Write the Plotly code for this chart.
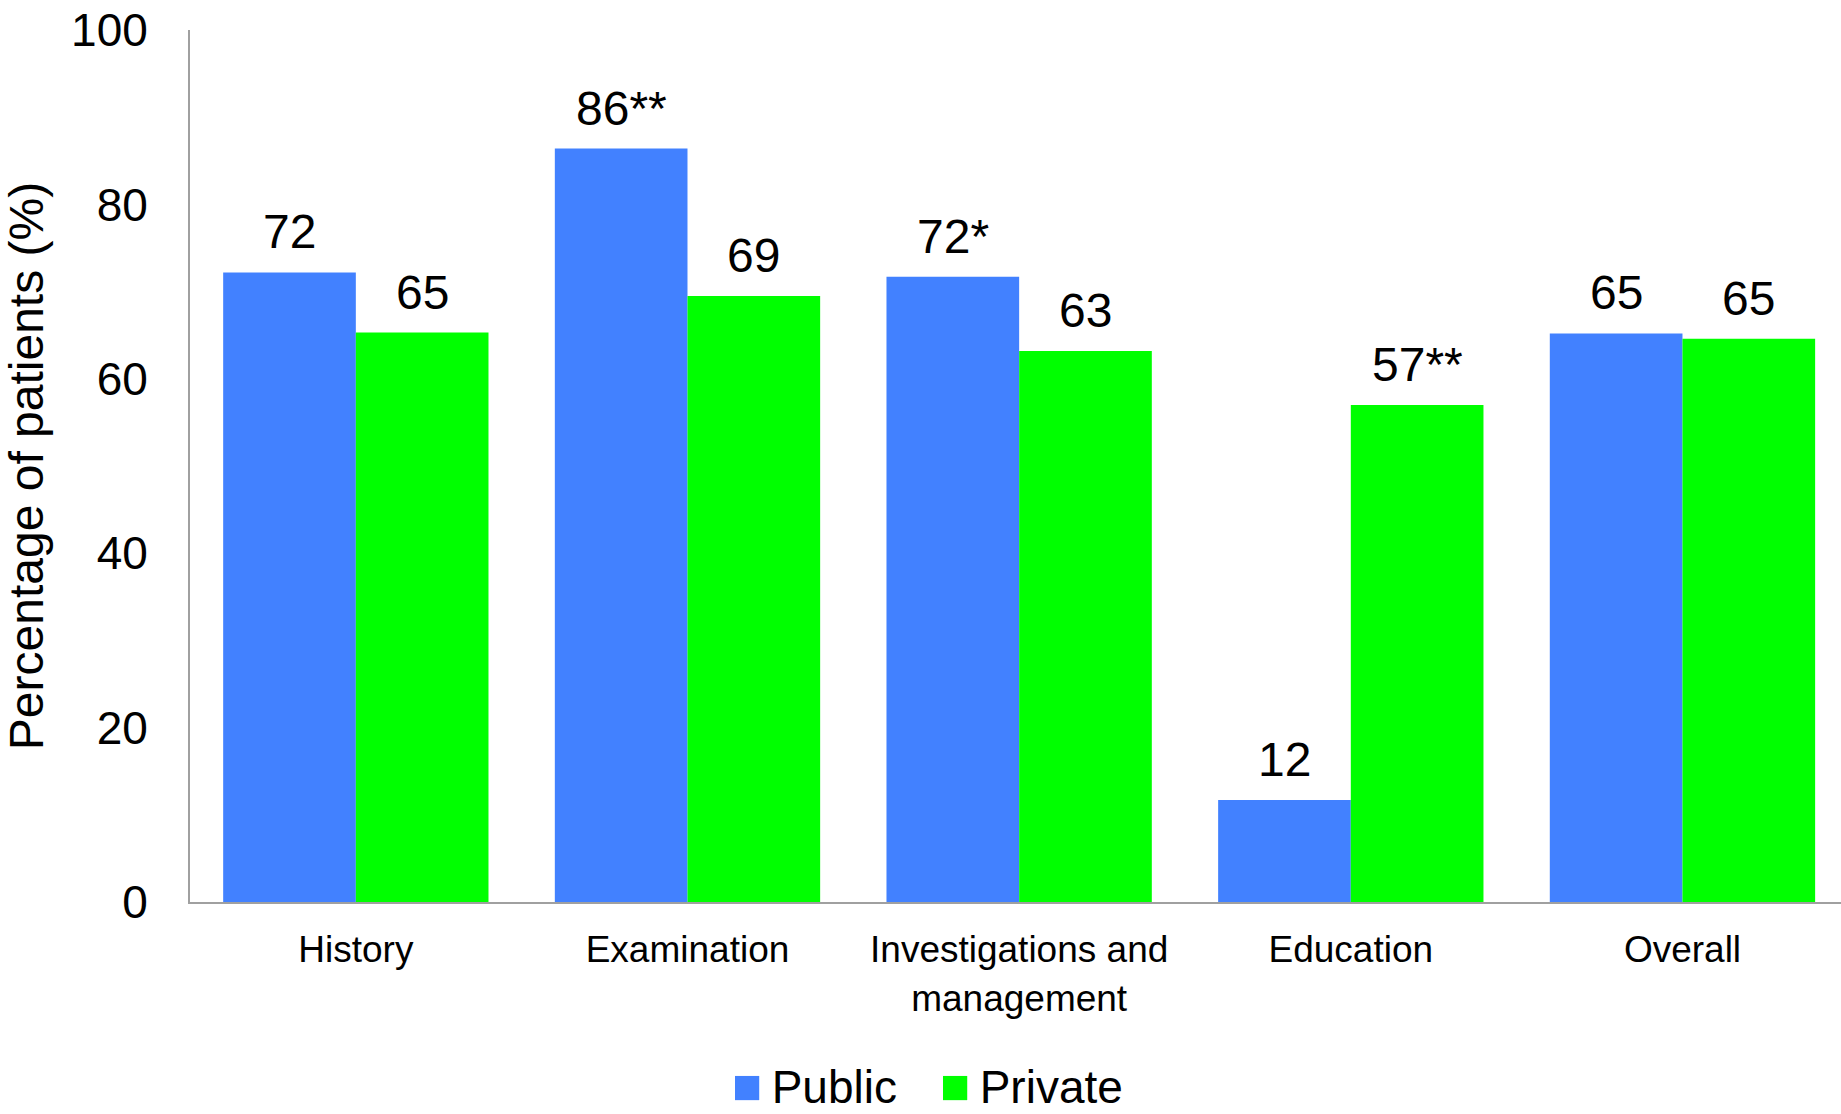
import plotly.graph_objects as go

categories = ["History", "Examination", "Investigations and<br>management", "Education", "Overall"]
public_values = [72.2, 86.4, 71.7, 11.7, 65.2]
private_values = [65.3, 69.5, 63.2, 57.0, 64.6]
public_labels = ["72", "86**", "72*", "12", "65"]
private_labels = ["65", "69", "63", "57**", "65"]
y_ticks = [0, 20, 40, 60, 80, 100]
series_names = ["Public", "Private"]

BLUE = "#4281FF"
GREEN = "#00FF00"
FONT = "Liberation Sans, Arial, sans-serif"

x_idx = list(range(len(categories)))

fig = go.Figure()
fig.add_trace(go.Bar(x=x_idx, y=public_values, name=series_names[0], marker_color=BLUE,
                     marker_line_width=0, showlegend=False))
fig.add_trace(go.Bar(x=x_idx, y=private_values, name=series_names[1], marker_color=GREEN,
                     marker_line_width=0, showlegend=False))

annotations = []
for i in x_idx:
    annotations.append(dict(x=i - 0.2, y=public_values[i], text=public_labels[i],
                            xref="x", yref="y", showarrow=False, yanchor="bottom",
                            yshift=12, font=dict(size=48, color="black", family=FONT)))
    annotations.append(dict(x=i + 0.2, y=private_values[i], text=private_labels[i],
                            xref="x", yref="y", showarrow=False, yanchor="bottom",
                            yshift=12, font=dict(size=48, color="black", family=FONT)))

# legend drawn as text with coloured square swatches
legend_items = [(series_names[0], BLUE, 730), (series_names[1], GREEN, 938)]
for name, col, px in legend_items:
    annotations.append(dict(
        xref="paper", yref="paper", x=(px - 190) / 1651, y=(902 - 1086) / 872,
        xanchor="left", yanchor="middle", showarrow=False,
        text=(f'<span style="color:{col};font-size:50px">■</span>'
              f'<span style="font-size:34px"> </span>{name}'),
        font=dict(size=46, color="black", family=FONT)))

fig.update_layout(
    width=1841, height=1114,
    margin=dict(l=190, r=0, t=30, b=212, autoexpand=False),
    paper_bgcolor="white", plot_bgcolor="white",
    barmode="group", bargap=0.2, bargroupgap=0,
    font=dict(family=FONT, color="black"),
    annotations=annotations,
    showlegend=False,
)
fig.update_xaxes(
    range=[-0.5, 4.478], tickmode="array", tickvals=x_idx, ticktext=categories,
    showline=True, linecolor="#A0A0A0", linewidth=2, showgrid=False, zeroline=False,
    ticks="", tickfont=dict(size=37, family=FONT, color="black"),
    ticklabelstandoff=14, automargin=False,
)
fig.update_yaxes(
    range=[0, 100], tickmode="array", tickvals=y_ticks,
    showline=True, linecolor="#A0A0A0", linewidth=2, showgrid=False, zeroline=False,
    ticks="", tickfont=dict(size=46, family=FONT, color="black"),
    ticklabelstandoff=31, automargin=False,
    title=dict(text="Percentage of patients (%)", font=dict(size=48, family=FONT, color="black"),
               standoff=17),
)

fig.write_html("out.html")
